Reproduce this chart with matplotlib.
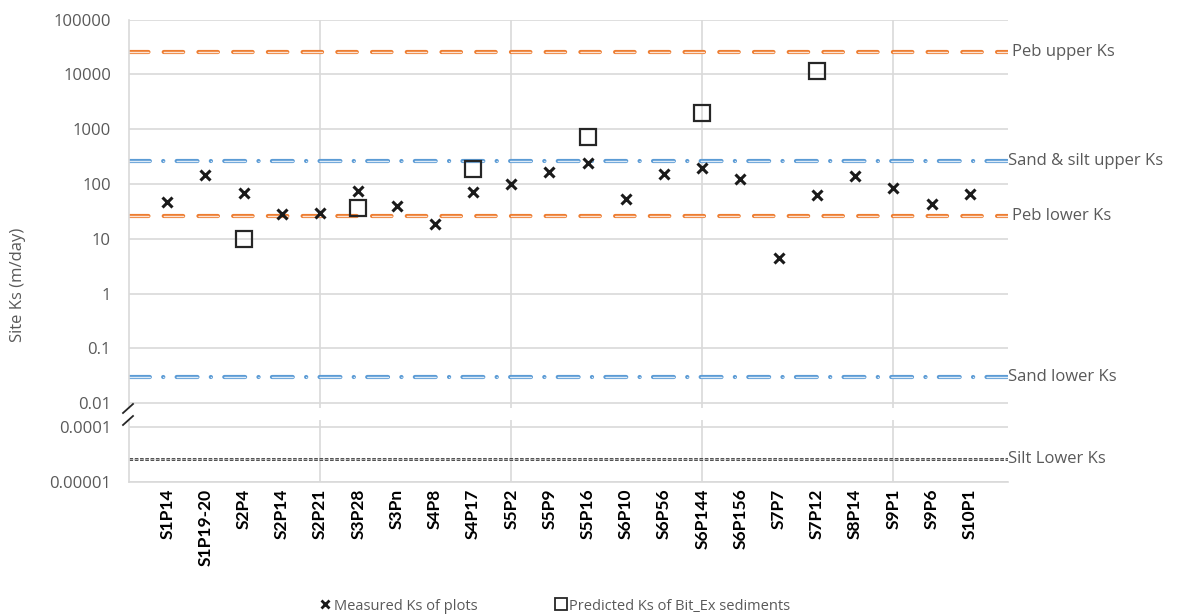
import numpy as np
import matplotlib
matplotlib.use('Agg')
import matplotlib.pyplot as plt
from matplotlib.lines import Line2D

# values (m/day)
sites = ['S1P14', 'S1P19-20', 'S2P4', 'S2P14', 'S2P21', 'S3P28', 'S3Pn', 'S4P8',
         'S4P17', 'S5P2', 'S5P9', 'S5P16', 'S6P10', 'S6P56', 'S6P144', 'S6P156',
         'S7P7', 'S7P12', 'S8P14', 'S9P1', 'S9P6', 'S10P1']
measured = [46, 146, 69, 28, 29, 74, 39, 19, 72, 98, 162, 241, 54, 152, 196, 124,
            4.4, 64, 142, 83, 43, 66]
nan = np.nan
predicted = [nan, nan, 10, nan, nan, 37, nan, nan, 184, nan, nan, 725, nan, nan,
             2000, nan, nan, 11500, nan, nan, nan, nan]

peb_names = ['Peb upper Ks', 'Peb lower Ks']
peb_values = [25920, 25.92]
sand_names = ['Sand & silt upper Ks', 'Sand lower Ks']
sand_values = [259.2, 0.03]
silt_name = 'Silt Lower Ks'
silt_value = 2.592e-5

upper_ticks = [1e5, 1e4, 1e3, 1e2, 10, 1, 0.1, 0.01]
upper_labels = ['100000', '10000', '1000', '100', '10', '1', '0.1', '0.01']
lower_ticks = [1e-4, 1e-5]
lower_labels = ['0.0001', '0.00001']
x_grid = [5, 10, 15, 20]

legend_labels = ['Measured Ks of plots', 'Predicted Ks of Bit_Ex sediments']

plt.rcParams['font.family'] = ['Open Sans', 'DejaVu Sans']
plt.rcParams['lines.scale_dashes'] = False
txt = '#595959'
grid = '#D9D9D9'
orange = '#ED7D31'
blue = '#5B9BD5'

W, H = 1181, 616
fig = plt.figure(figsize=(W / 100, H / 100), dpi=100)

def px(l, t, r, b):
    return [l / W, 1 - b / H, (r - l) / W, (b - t) / H]

ax = fig.add_axes(px(129, 19.5, 1008, 408))
ax2 = fig.add_axes(px(129, 420, 1008, 481.5))

x = np.arange(1, len(sites) + 1)

for a in (ax, ax2):
    a.set_yscale('log')
    a.set_xlim(0, 23)
    a.set_xticks(x)
    a.grid(True, axis='y', color=grid, lw=1.2)
    for g in x_grid:
        a.axvline(g, color=grid, lw=1.2, zorder=0.5)
    a.set_axisbelow(True)
    a.tick_params(length=0, colors=txt, labelsize=12, pad=13)
    for s in ('top', 'right', 'bottom'):
        a.spines[s].set_visible(False)
    a.spines['left'].set_color(grid)
    a.spines['left'].set_linewidth(1.2)

ax.set_ylim(0.0082, 1e5)
ax.set_yticks(upper_ticks, upper_labels)
ax.yaxis.set_minor_locator(matplotlib.ticker.NullLocator())
ax.set_xticklabels([])

ax2.set_ylim(1e-5, 1.32e-4)
ax2.set_yticks(lower_ticks, lower_labels)
ax2.yaxis.set_minor_locator(matplotlib.ticker.NullLocator())
ax2.spines['bottom'].set_visible(True)
ax2.spines['bottom'].set_color(grid)
ax2.spines['bottom'].set_linewidth(1.2)

# site names under the lower axis
ax2.set_xticklabels(sites, rotation=90, fontweight='bold', color='black',
                    fontsize=12.5, family=['Lato', 'DejaVu Sans'])
ax2.tick_params(axis='x', pad=5)

# reference lines, drawn as double lines
for name, val in zip(peb_names, peb_values):
    ax.axhline(val, color=orange, lw=3.0, dashes=(14, 11), dash_capstyle='round')
    ax.axhline(val, color='#FCE4D6', lw=1.0, dashes=(14, 11), dash_capstyle='round')
    ax.text(1.005, val, name, transform=ax.get_yaxis_transform(), va='center',
            ha='left', color=txt, fontsize=12)
for name, val in zip(sand_names, sand_values):
    ax.axhline(val, color=blue, lw=3.0, dashes=(15, 9.6, 0.1, 9.6),
               dash_capstyle='round')
    ax.axhline(val, color='#DEEBF7', lw=1.0, dashes=(15, 9.6, 0.1, 9.6),
               dash_capstyle='round')
    ax.text(1.0, val, name, transform=ax.get_yaxis_transform(), va='center',
            ha='left', color=txt, fontsize=12)

ax2.axhline(silt_value, color='#404040', lw=2.0, dashes=(2.6, 1.2))
ax2.axhline(silt_value, color='#BFBFBF', lw=0.6, dashes=(2.6, 1.2))
ax2.text(1.0, silt_value, silt_name, transform=ax2.get_yaxis_transform(),
         va='center', ha='left', color=txt, fontsize=12)

# data points
ax.plot(x, measured, ls='none', marker='x', ms=7, mew=2.2, color='#1A1A1A',
        zorder=5)
ax.plot(x, predicted, ls='none', marker='s', ms=11, mew=1.6, mfc='none',
        mec='#262626', zorder=5)

# axis break marks
for y0 in (413, 425):
    fig.add_artist(Line2D([123 / W, 133 / W], [1 - y0 / H, 1 - (y0 - 9) / H],
                          color='#262626', lw=1.3))

fig.text(18 / W, 1 - 285 / H, 'Site Ks (m/day)', rotation=90, va='center',
         ha='center', color=txt, fontsize=12)

handles = [Line2D([], [], ls='none', marker='x', ms=5.5, mew=2, color='#1A1A1A'),
           Line2D([], [], ls='none', marker='s', ms=9, mew=1.3, mfc='none',
                  mec='#262626')]
leg = fig.legend(handles, legend_labels, loc='center', ncol=2,
                 bbox_to_anchor=(555 / W, 1 - 606 / H), frameon=False,
                 fontsize=10.5, handlelength=0.8, handletextpad=0.2,
                 columnspacing=5.3)
for t in leg.get_texts():
    t.set_color(txt)

fig.savefig('out.png', dpi=100)
